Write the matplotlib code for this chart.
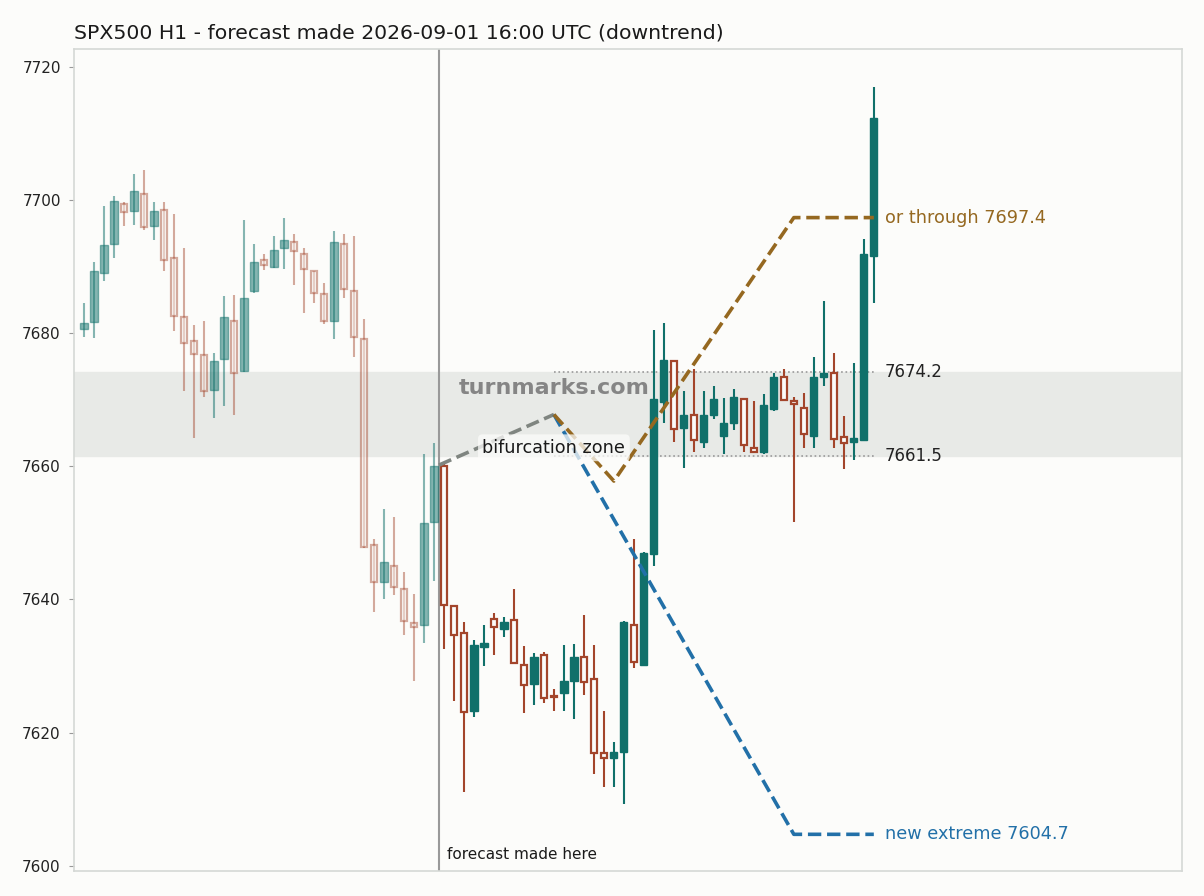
"""
SPX500 H1 candles with a two-way forecast (bifurcation) overlay.
"""

import matplotlib

matplotlib.use("Agg")
import matplotlib.pyplot as plt
import numpy as np

# --- data ---------------------------------------------------------------
# first 36 bars are history (drawn faded), the rest came after the forecast
N_HIST = 36
OPEN = [
    7680.7, 7681.7, 7689.0, 7693.5, 7699.5, 7698.4, 7701.0, 7696.2, 7698.5, 7691.3,
    7682.5, 7678.8, 7676.7, 7671.5, 7676.1, 7681.8, 7674.4, 7686.3, 7691.0, 7690.0,
    7692.9, 7693.8, 7692.0, 7689.3, 7685.9, 7681.9, 7693.5, 7686.3, 7679.1, 7648.2,
    7642.7, 7645.1, 7641.6, 7636.4, 7636.1, 7651.6,
    7660.0, 7639.0, 7635.0, 7623.2, 7632.8, 7637.1, 7635.5, 7636.9, 7630.2, 7627.3,
    7631.7, 7625.5, 7625.9, 7627.7, 7631.3, 7628.0, 7616.9, 7616.2, 7617.1, 7636.2,
    7630.1, 7646.9, 7669.7, 7675.9, 7665.8, 7667.8, 7663.7, 7667.8, 7664.5, 7666.6,
    7670.1, 7662.8, 7662.1, 7668.7, 7673.5, 7669.9, 7668.8, 7664.5, 7673.4, 7674.1,
    7664.4, 7663.6, 7664.0, 7691.7,
]
HIGH = [
    7684.5, 7690.8, 7699.2, 7700.6, 7699.8, 7704.0, 7704.5, 7699.7, 7699.8, 7697.9,
    7692.8, 7681.2, 7681.8, 7677.1, 7685.6, 7685.7, 7697.1, 7693.5, 7692.0, 7694.6,
    7697.3, 7695.0, 7692.9, 7689.4, 7687.5, 7695.4, 7694.9, 7694.6, 7682.1, 7649.1,
    7653.6, 7652.4, 7644.1, 7640.8, 7661.8, 7663.5,
    7660.4, 7639.0, 7636.6, 7633.9, 7636.2, 7638.0, 7637.4, 7641.6, 7633.0, 7632.0,
    7632.1, 7626.5, 7633.2, 7633.3, 7637.7, 7633.2, 7623.3, 7618.6, 7636.7, 7649.1,
    7647.2, 7680.5, 7681.5, 7676.0, 7671.3, 7674.7, 7671.3, 7672.1, 7670.3, 7671.7,
    7670.2, 7669.8, 7670.9, 7674.1, 7674.7, 7670.4, 7671.0, 7676.4, 7684.9, 7677.0,
    7667.6, 7675.5, 7694.2, 7717.0,
]
LOW = [
    7679.5, 7679.3, 7687.8, 7691.3, 7696.1, 7696.3, 7695.5, 7694.0, 7689.4, 7680.3,
    7671.4, 7664.3, 7670.4, 7667.3, 7669.1, 7667.7, 7674.2, 7686.0, 7689.5, 7689.8,
    7689.7, 7687.3, 7683.0, 7684.5, 7681.4, 7679.1, 7685.3, 7676.5, 7647.8, 7638.1,
    7640.1, 7640.6, 7634.7, 7627.8, 7633.5, 7642.8,
    7632.5, 7624.8, 7611.1, 7622.3, 7630.0, 7631.6, 7634.4, 7630.4, 7623.0, 7624.1,
    7624.5, 7623.2, 7623.2, 7622.0, 7625.7, 7613.8, 7611.8, 7611.8, 7609.3, 7629.7,
    7630.0, 7645.1, 7666.6, 7663.6, 7659.8, 7662.1, 7662.8, 7667.2, 7661.9, 7665.4,
    7662.2, 7662.0, 7661.9, 7668.4, 7670.0, 7651.7, 7662.7, 7662.7, 7672.1, 7662.7,
    7659.6, 7660.9, 7663.9, 7684.6,
]
CLOSE = [
    7681.5, 7689.3, 7693.3, 7699.9, 7698.3, 7701.4, 7696.0, 7698.4, 7691.1, 7682.6,
    7678.5, 7676.9, 7671.3, 7675.8, 7682.5, 7674.0, 7685.3, 7690.8, 7690.2, 7692.6,
    7694.1, 7692.4, 7689.6, 7686.0, 7681.8, 7693.8, 7686.6, 7679.5, 7647.9, 7642.6,
    7645.6, 7641.9, 7636.7, 7635.9, 7651.5, 7660.0,
    7639.1, 7634.7, 7623.1, 7633.1, 7633.4, 7635.8, 7636.6, 7630.5, 7627.2, 7631.4,
    7625.2, 7625.3, 7627.7, 7631.4, 7627.6, 7616.9, 7616.1, 7617.1, 7636.6, 7630.6,
    7647.0, 7670.1, 7676.0, 7665.6, 7667.7, 7664.0, 7667.8, 7670.1, 7666.6, 7670.4,
    7663.2, 7662.1, 7669.2, 7673.4, 7670.0, 7669.4, 7664.8, 7673.4, 7674.1, 7664.1,
    7663.5, 7664.2, 7691.9, 7712.3,
]

# forecast paths (bar index, price)
LEAD_X, LEAD_Y = [35.5, 47], [7660.2, 7667.8]
DOWN_X, DOWN_Y = [47, 71, 79], [7667.8, 7604.7, 7604.7]
UP_X, UP_Y = [47, 53, 71, 79], [7667.8, 7657.8, 7697.4, 7697.4]
ZONE_LO, ZONE_HI = 7661.5, 7674.2
TARGET_UP, TARGET_DOWN = 7697.4, 7604.7

# --- style ---------------------------------------------------------------
BG = "#fcfcfa"
UPC = "#10706a"
DNC = "#a3452b"
BLUE = "#2270a8"
GOLD = "#956820"

fig = plt.figure(figsize=(12.04, 8.96), dpi=100, facecolor=BG)
ax = fig.add_axes([0.0615, 0.028, 0.92, 0.917], facecolor=BG)

x = np.arange(len(OPEN))
o, h, l, c = map(np.asarray, (OPEN, HIGH, LOW, CLOSE))
hist = x < N_HIST

for i in x:
    up = c[i] >= o[i]
    col = UPC if up else DNC
    alpha = (0.5 if up else 0.45) if hist[i] else 1.0
    ax.vlines(i, l[i], h[i], color=col, lw=1.5, alpha=alpha, zorder=2)
    lo_b, hi_b = min(o[i], c[i]), max(o[i], c[i])
    height = max(hi_b - lo_b, 0.15)
    if up:
        ax.bar(i, height, bottom=lo_b, width=0.72, color=col, edgecolor=col,
               lw=1.0, alpha=alpha, zorder=3)
    else:
        ax.bar(i, height, bottom=lo_b, width=0.66, facecolor=BG, edgecolor=col,
               lw=1.6, alpha=alpha, zorder=3)

# bifurcation band + forecast marker
ax.axhspan(ZONE_LO, ZONE_HI, color="#e8eae7", zorder=0)
for lvl in (ZONE_LO, ZONE_HI):
    ax.hlines(lvl, UP_X[0], UP_X[-1], colors="#999999", linestyles=":", lw=1.2, zorder=1)
ax.axvline(35.5, color="#999999", lw=1.5, zorder=1)

ax.plot(LEAD_X, LEAD_Y, ls="--", color="#7f8580", lw=2.6, zorder=4)
ax.plot(DOWN_X, DOWN_Y, ls="--", color=BLUE, lw=2.6, zorder=4)
ax.plot(UP_X, UP_Y, ls="--", color=GOLD, lw=2.6, zorder=4)

ax.text(80.1, TARGET_UP, f"or through {TARGET_UP}", color=GOLD, fontsize=12.7, va="center")
ax.text(80.1, ZONE_HI, f"{ZONE_HI}", color="#222222", fontsize=12, va="center")
ax.text(80.1, ZONE_LO, f"{ZONE_LO}", color="#222222", fontsize=12, va="center")
ax.text(80.1, TARGET_DOWN, f"new extreme {TARGET_DOWN}", color=BLUE, fontsize=12.7,
        va="center")

ax.text(47, 7671.8, "turnmarks.com", color="#808080", fontsize=16, fontweight="bold",
        ha="center", va="center", alpha=0.95, zorder=5)
ax.text(47, 7662.8, "bifurcation zone", color="#1a1a1a", fontsize=12.7, ha="center",
        va="center", zorder=5,
        bbox=dict(boxstyle="round,pad=0.25", fc=BG, ec="none", alpha=0.75))
ax.text(36.3, 7601.6, "forecast made here", color="#1a1a1a", fontsize=11, va="center")

ax.set_xlim(-1, 109.8)
ax.set_ylim(7599.2, 7722.7)
ax.set_yticks(np.arange(7600, 7721, 20))
ax.set_xticks([])
ax.tick_params(axis="y", labelsize=11, color="#999999", labelcolor="#222222", pad=6)
for s in ax.spines.values():
    s.set_color("#d5d8d5")
    s.set_linewidth(1.2)

ax.set_title("SPX500 H1 - forecast made 2026-09-01 16:00 UTC (downtrend)",
             loc="left", fontsize=14.7, color="#1a1a1a", pad=8)

fig.savefig("out.png", dpi=100, facecolor=BG)
